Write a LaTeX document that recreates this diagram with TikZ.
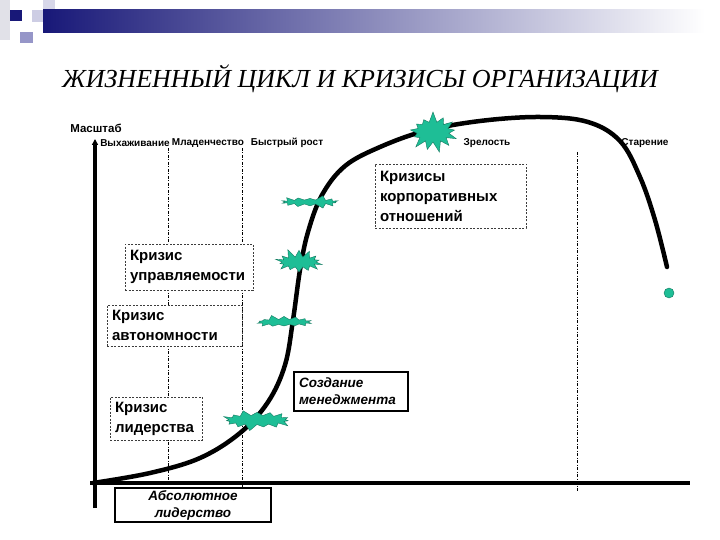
\documentclass[tikz,border=0pt]{standalone}
\usepackage{fontspec}
\setmainfont{Liberation Sans}
\newfontfamily\titlefont{Liberation Serif}
\usetikzlibrary{shapes.symbols,arrows.meta}
\definecolor{navy}{RGB}{24,24,120}
\definecolor{lav}{RGB}{150,150,200}
\definecolor{lavl}{RGB}{205,205,228}
\definecolor{greyl}{RGB}{225,225,232}
\definecolor{burstc}{RGB}{30,190,150}
\definecolor{burstd}{RGB}{20,120,95}
\definecolor{boxdash}{RGB}{60,60,60}
\tikzset{
  dotbox/.style={draw=boxdash, line width=0.8pt, dash pattern=on 2pt off 1.5pt, fill=white,
    align=left, inner xsep=5pt, inner ysep=2pt, font=\bfseries\fontsize{15}{20}\selectfont},
  solidbox/.style={draw=black, line width=1.8pt, fill=white, inner xsep=5pt, inner ysep=2pt,
    font=\bfseries\itshape\fontsize{13.5}{17}\selectfont},
  phase/.style={font=\bfseries\fontsize{10}{11}\selectfont, inner sep=0pt},
  burst/.style={starburst, fill=burstc, draw=burstd, line width=0.4pt, inner sep=0pt},
  vline/.style={line width=0.9pt, dash pattern=on 3pt off 1.5pt on 1pt off 1.5pt},
  axis/.style={line width=3.5pt},
}
\begin{document}
\begin{tikzpicture}[x=1pt,y=-1pt]
\useasboundingbox (0,0) rectangle (720,540);
% header decoration
\fill[greyl] (0,0) rectangle (10,40);
\fill[lavl] (32,10) rectangle (55,22);
\fill[lavl!80] (43,0) rectangle (55,22);
\shade[left color=navy, right color=white] (43,10) rectangle (705,33);
\fill[navy] (10,10) rectangle (22,21);
\fill[lav] (20,32) rectangle (33,43);
% title
\node[font=\titlefont\itshape\fontsize{26}{29}\selectfont, inner sep=0pt] (title) at (360,79) {ЖИЗНЕННЫЙ ЦИКЛ И КРИЗИСЫ ОРГАНИЗАЦИИ};
% dashed verticals
\coordinate (v1t) at (168,148); \coordinate (v1b) at (168,484);
\coordinate (v2t) at (242,148); \coordinate (v2b) at (242,487);
\coordinate (v3t) at (577,152); \coordinate (v3b) at (577,492);
\draw[vline] (v1t) -- (v1b);
\draw[vline] (v2t) -- (v2b);
\draw[vline] (v3t) -- (v3b);
% axes
\coordinate (ytop) at (95,139);
\coordinate (ybot) at (95,508);
\coordinate (xl) at (90,483);
\coordinate (xr) at (690,483);
\draw[axis] (xl) -- (xr);
\draw[axis, -{Triangle[length=6pt,width=6pt]}] (ybot) -- (ytop);
% labels
\node[font=\bfseries\fontsize{11.5}{13}\selectfont, inner sep=0pt] (mash) at (96,128) {Масштаб};
\node[phase] (p1) at (135,143) {Выхаживание};
\node[phase] (p2) at (208,143) {Младенчество};
\node[phase] (p3) at (287,143) {Быстрый рост};
\node[phase] (p4) at (487,143) {Зрелость};
\node[phase] (p5) at (645,143) {Старение};
% boxes
\node[dotbox, minimum width=151pt, minimum height=64pt, text width=141pt] (k1) at (450.5,196) {Кризисы\\корпоративных\\отношений};
\node[dotbox, minimum width=128pt, minimum height=46pt, text width=118pt] (k2) at (189,267) {Кризис\\управляемости};
\node[dotbox, minimum width=135pt, minimum height=41pt, text width=125pt] (k3) at (174.5,325.5) {Кризис\\автономности};
\node[dotbox, minimum width=92pt, minimum height=43pt, text width=82pt] (k4) at (156,418.5) {Кризис\\лидерства};
\node[solidbox, minimum width=114pt, minimum height=39pt, text width=104pt, align=left] (m1) at (351,391.5) {Создание\\менеджмента};
\node[solidbox, minimum width=156pt, minimum height=34pt, text width=146pt, align=center] (m2) at (193,505) {Абсолютное\\лидерство};
% curve
\draw[line width=4.5pt, line cap=round] plot[smooth, tension=0.6] coordinates {
 (93,483) (150,473) (200,458) (240,433) (268,402) (285,365) (293,320) (300,270)
 (308,232) (322,195) (345,166) (380,147) (425,131) (480,121) (540,117) (588,122)
 (620,141) (640,177) (655,220) (667,267)};
% bursts
\node[burst, minimum width=54pt, minimum height=42pt, starburst points=13, starburst point height=11pt, random starburst=7] (b1) at (433,132) {};
\node[burst, minimum width=60pt, minimum height=14pt, starburst points=14, starburst point height=5pt, random starburst=3] (b2) at (310,202) {};
\node[burst, minimum width=52pt, minimum height=28pt, starburst points=14, starburst point height=9pt, random starburst=11] (b3) at (299,262) {};
\node[burst, minimum width=58pt, minimum height=15pt, starburst points=14, starburst point height=5pt, random starburst=5] (b4) at (284,322) {};
\node[burst, minimum width=71pt, minimum height=23pt, starburst points=15, starburst point height=7pt, random starburst=9] (b5) at (257,420) {};
% dot
\node[circle, fill=burstc, draw=burstd, line width=0.4pt, minimum size=10pt, inner sep=0pt] (dot) at (669,293) {};
\end{tikzpicture}
\end{document}
